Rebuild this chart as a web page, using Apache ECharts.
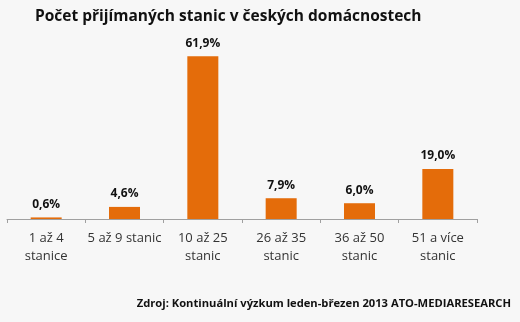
<!DOCTYPE html>
<html><head><meta charset="utf-8">
<script src="https://cdn.jsdelivr.net/npm/echarts@6/dist/echarts.min.js"></script>
<style>html,body{margin:0;padding:0;background:#f7f7f7}#c{width:520px;height:322px}</style>
</head><body><div id="c"></div>
<script>
const categories = ["1 až 4\nstanice", "5 až 9 stanic", "10 až 25\nstanic", "26 až 35\nstanic", "36 až 50\nstanic", "51 a více\nstanic"];
const values = [0.6, 4.6, 61.9, 7.9, 6.0, 19.0];
const titleText = "Počet přijímaných stanic v českých domácnostech";
const sourceText = "Zdroj: Kontinuální výzkum leden-březen 2013 ATO-MEDIARESEARCH";

const chart = echarts.init(document.getElementById('c'), null, {renderer: 'canvas'});
chart.setOption({
  backgroundColor: '#f7f7f7',
  animation: false,
  title: [{
    text: titleText, left: 30, top: 4,
    textStyle: {fontFamily: 'Open Sans', fontWeight: 'bold', fontSize: 15.5, color: '#111'}
  }, {
    text: sourceText, right: 4, top: 293,
    textStyle: {fontFamily: 'Open Sans', fontWeight: 'bold', fontSize: 11.2, color: '#111'}
  }],
  grid: {left: 7, right: 43, top: 35, bottom: 103},
  xAxis: {
    type: 'category', data: categories,
    axisLine: {lineStyle: {color: '#a0a0a0', width: 1}},
    axisTick: {show: true, length: 4, lineStyle: {color: '#a0a0a0'}},
    axisLabel: {fontFamily: 'Open Sans', fontSize: 13, color: '#333', margin: 10, lineHeight: 18, interval: 0}
  },
  yAxis: {type: 'value', min: 0, max: 70, show: false, splitLine: {show: false}},
  series: [{
    type: 'bar', data: values, barWidth: 31,
    itemStyle: {color: '#e46c0a'},
    label: {
      show: true, position: 'top', distance: 7,
      fontFamily: 'Open Sans', fontWeight: 'bold', fontSize: 12, color: '#111',
      formatter: p => p.value.toFixed(1).replace('.', ',') + '%'
    }
  }]
});
</script></body></html>
